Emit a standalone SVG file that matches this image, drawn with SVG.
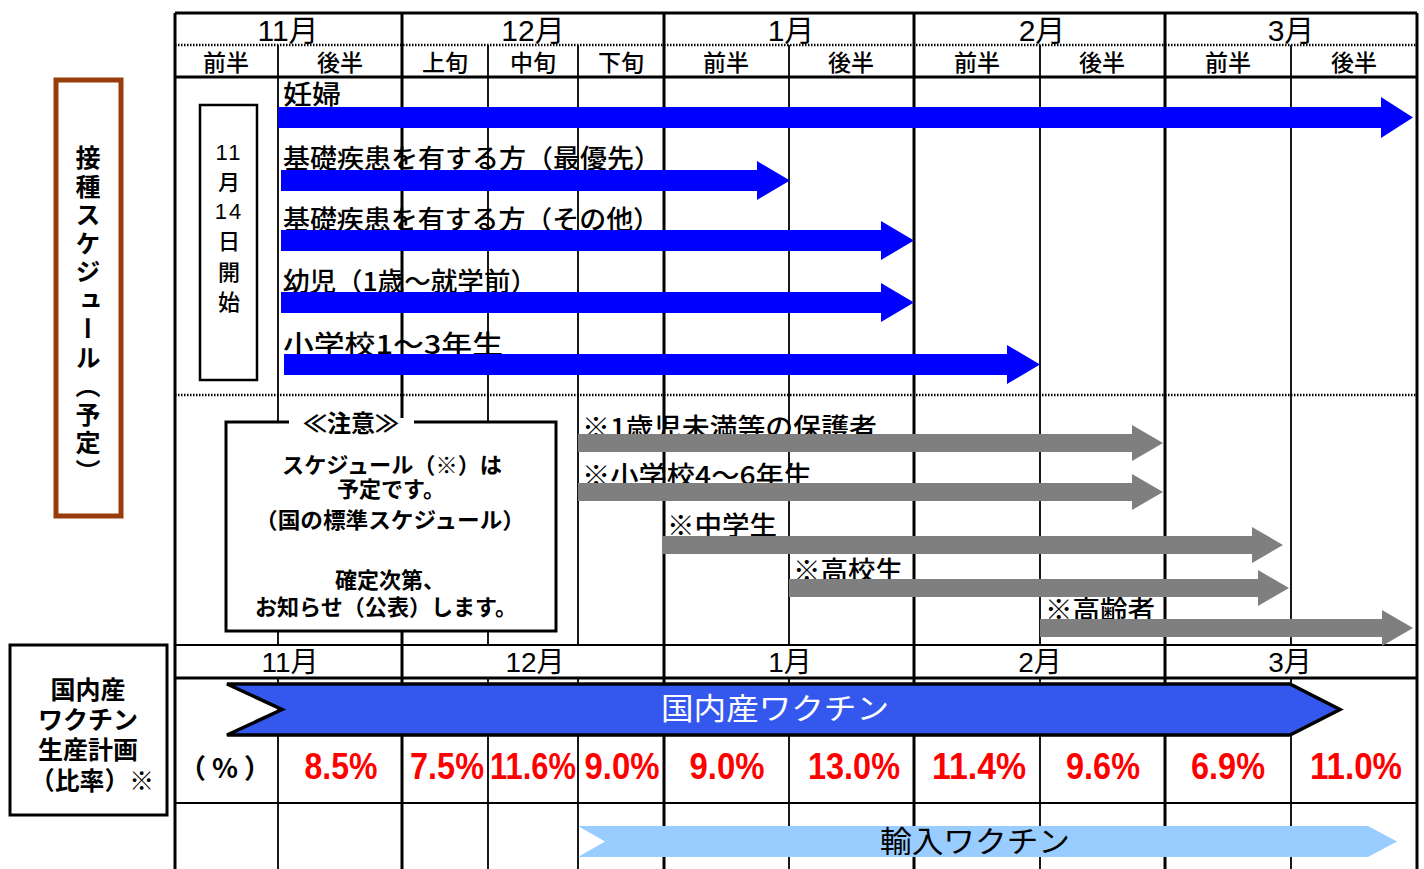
<svg xmlns="http://www.w3.org/2000/svg" width="1424" height="869" viewBox="0 0 1424 869">
<style>
text{font-family:'Liberation Sans','Noto Sans CJK JP',sans-serif;fill:#000}
.jp{font-family:'Noto Sans CJK JP',sans-serif}
.mon{font-size:30px;text-anchor:middle}
.mon2{font-size:28px;text-anchor:middle}
.half{font-size:23px;text-anchor:middle;font-family:'Noto Sans CJK JP',sans-serif;font-weight:500}
.lbl{font-size:26px;font-family:'Noto Sans CJK JP',sans-serif;font-weight:500}
.note{font-size:22px;font-weight:bold;text-anchor:middle}
.pct{font-size:37px;font-weight:bold;fill:#FF0000;text-anchor:middle}
.thick{stroke:#000;stroke-width:3;fill:none}
.thin{stroke:#000;stroke-width:1.8;fill:none}
.dot{stroke:#000;stroke-width:2.5;stroke-dasharray:1.5 1.5;fill:none}
.blue{fill:#0000FF}
.grey{fill:#7F7F7F}
</style>
<rect width="1424" height="869" fill="#fff"/>

<g id="grid">
  <line class="dot" x1="175" y1="45" x2="1417" y2="45"/>
  <line class="dot" x1="175" y1="395" x2="1417" y2="395"/>
  <path class="thin" d="M278 45V645M488 45V645M578 45V645M789 45V645M1040 45V645M1291 45V645M278 678V869M488 678V869M578 678V869M789 678V869M1040 678V869M1291 678V869"/>
  <path class="thick" d="M402 13V869M664 13V869M914 13V869M1165 13V869M175 13V869M1417 13V869M175 13H1417M175 77H1417M175 678H1417"/>
  <path class="thin" d="M175 645H1417M175 803H1417" style="stroke-width:2.2"/>
</g>

<g id="header">
  <text class="mon" x="288" y="41">11月</text>
  <text class="mon" x="533" y="41">12月</text>
  <text class="mon" x="791" y="41">1月</text>
  <text class="mon" x="1042" y="41">2月</text>
  <text class="mon" x="1291" y="41">3月</text>
  <text class="half" x="226" y="71">前半</text>
  <text class="half" x="340" y="71">後半</text>
  <text class="half" x="445" y="71">上旬</text>
  <text class="half" x="533" y="71">中旬</text>
  <text class="half" x="621" y="71">下旬</text>
  <text class="half" x="726" y="71">前半</text>
  <text class="half" x="851" y="71">後半</text>
  <text class="half" x="977" y="71">前半</text>
  <text class="half" x="1102" y="71">後半</text>
  <text class="half" x="1228" y="71">前半</text>
  <text class="half" x="1354" y="71">後半</text>
</g>

<g id="schedule-title">
  <rect x="56" y="80" width="65" height="436" fill="#fff" stroke="#983C0C" stroke-width="5"/>
  <text class="jp" x="88" y="145" font-size="25" font-weight="bold" letter-spacing="3.5" style="writing-mode:vertical-rl">接種スケジュール（予定）</text>
</g>

<g id="start-box">
  <rect x="200" y="105" width="57" height="275" fill="#fff" stroke="#000" stroke-width="2.5"/>
  <g font-size="22" text-anchor="middle" font-weight="500" class="jp">
    <text x="229" y="160" letter-spacing="2">11</text>
    <text x="229" y="190">月</text>
    <text x="229" y="219" letter-spacing="2">14</text>
    <text x="229" y="249">日</text>
    <text x="229" y="280">開</text>
    <text x="229" y="310">始</text>
  </g>
</g>

<g id="blue-arrows">
  <text class="lbl" x="283" y="104" textLength="58" lengthAdjust="spacingAndGlyphs">妊婦</text>
  <text class="lbl" x="283" y="168" textLength="378" lengthAdjust="spacingAndGlyphs">基礎疾患を有する方（最優先）</text>
  <text class="lbl" x="283" y="229" textLength="377" lengthAdjust="spacingAndGlyphs">基礎疾患を有する方（その他）</text>
  <text class="lbl" x="283" y="291" textLength="254" lengthAdjust="spacingAndGlyphs">幼児（1歳～就学前）</text>
  <text class="lbl" x="283" y="354" textLength="220" lengthAdjust="spacingAndGlyphs">小学校1～3年生</text>
  <polygon class="blue" points="278,107 1381,107 1381,97 1413,117.5 1381,138 1381,128 278,128"/>
  <polygon class="blue" points="281,170 757,170 757,161 790,180.5 757,200 757,191 281,191"/>
  <polygon class="blue" points="281,230 881,230 881,221 914,240.5 881,260 881,251 281,251"/>
  <polygon class="blue" points="281,292 881,292 881,283 914,302.5 881,322 881,313 281,313"/>
  <polygon class="blue" points="284,354 1007,354 1007,345 1040,364.5 1007,384 1007,375 284,375"/>
</g>

<g id="note-box">
  <rect x="226" y="422" width="330" height="209" fill="#fff" stroke="#000" stroke-width="3"/>
  <rect x="289" y="418" width="125" height="8" fill="#fff"/>
  <text class="note" x="351" y="432" style="font-size:24px">≪注意≫</text>
  <text class="note" x="392" y="473" textLength="220" lengthAdjust="spacingAndGlyphs">スケジュール（※）は</text>
  <text class="note" x="391" y="497">予定です。</text>
  <text class="note" x="390" y="528" textLength="270" lengthAdjust="spacingAndGlyphs">（国の標準スケジュール）</text>
  <text class="note" x="390" y="588">確定次第、</text>
  <text class="note" x="386" y="615" textLength="262" lengthAdjust="spacingAndGlyphs">お知らせ（公表）します。</text>
</g>

<g id="grey-arrows">
  <text class="lbl" x="582" y="437" textLength="295" lengthAdjust="spacingAndGlyphs">※1歳児未満等の保護者</text>
  <text class="lbl" x="582" y="485" textLength="230" lengthAdjust="spacingAndGlyphs">※小学校4～6年生</text>
  <text class="lbl" x="667" y="535" textLength="110" lengthAdjust="spacingAndGlyphs">※中学生</text>
  <text class="lbl" x="793" y="580" textLength="110" lengthAdjust="spacingAndGlyphs">※高校生</text>
  <text class="lbl" x="1045" y="619" textLength="110" lengthAdjust="spacingAndGlyphs">※高齢者</text>
  <polygon class="grey" points="578,434 1132,434 1132,425 1163,443 1132,461 1132,452 578,452"/>
  <polygon class="grey" points="578,483 1132,483 1132,474 1163,492 1132,510 1132,501 578,501"/>
  <polygon class="grey" points="663,536 1252,536 1252,527 1283,545 1252,563 1252,554 663,554"/>
  <polygon class="grey" points="789,579 1258,579 1258,570 1289,588 1258,606 1258,597 789,597"/>
  <polygon class="grey" points="1040,619 1382,619 1382,610 1413,628 1382,646 1382,637 1040,637"/>
</g>

<g id="bottom-months">
  <text class="mon2" x="290" y="672">11月</text>
  <text class="mon2" x="535" y="672">12月</text>
  <text class="mon2" x="790" y="672">1月</text>
  <text class="mon2" x="1040" y="672">2月</text>
  <text class="mon2" x="1290" y="672">3月</text>
</g>

<g id="production-title">
  <rect x="10" y="645" width="157" height="170" fill="#fff" stroke="#000" stroke-width="3"/>
  <g class="jp" font-size="25" font-weight="bold" text-anchor="middle">
    <text x="88" y="699">国内産</text>
    <text x="88" y="729">ワクチン</text>
    <text x="88" y="759">生産計画</text>
    <text x="92" y="790" textLength="124" lengthAdjust="spacingAndGlyphs">（比率）※</text>
  </g>
</g>

<g id="domestic-vaccine">
  <polygon points="227,684 1290,684 1340,709.5 1290,735 227,735 282,709.5" fill="#3458EE" stroke="#000" stroke-width="3.5" stroke-linejoin="miter"/>
  <text class="jp" x="775" y="719" font-size="30" style="fill:#fff" text-anchor="middle" textLength="228" lengthAdjust="spacingAndGlyphs">国内産ワクチン</text>
</g>

<g id="percentages">
  <text class="jp" x="225" y="778" font-size="27" font-weight="bold" text-anchor="middle" textLength="92" lengthAdjust="spacing">（%）</text>
  <text class="pct" x="341" y="779" textLength="73" lengthAdjust="spacingAndGlyphs">8.5%</text>
  <text class="pct" x="447" y="779" textLength="74" lengthAdjust="spacingAndGlyphs">7.5%</text>
  <text class="pct" x="533" y="779" textLength="86" lengthAdjust="spacingAndGlyphs">11.6%</text>
  <text class="pct" x="622" y="779" textLength="75" lengthAdjust="spacingAndGlyphs">9.0%</text>
  <text class="pct" x="727" y="779" textLength="75" lengthAdjust="spacingAndGlyphs">9.0%</text>
  <text class="pct" x="854" y="779" textLength="92" lengthAdjust="spacingAndGlyphs">13.0%</text>
  <text class="pct" x="979" y="779" textLength="94" lengthAdjust="spacingAndGlyphs">11.4%</text>
  <text class="pct" x="1103" y="779" textLength="74" lengthAdjust="spacingAndGlyphs">9.6%</text>
  <text class="pct" x="1228" y="779" textLength="74" lengthAdjust="spacingAndGlyphs">6.9%</text>
  <text class="pct" x="1356" y="779" textLength="92" lengthAdjust="spacingAndGlyphs">11.0%</text>
</g>

<g id="imported-vaccine">
  <polygon points="578,826 1368,826 1397,841.5 1368,857 578,857 605,841.5" fill="#99CCFF"/>
  <text class="jp" x="975" y="852" font-size="30" text-anchor="middle" textLength="190" lengthAdjust="spacingAndGlyphs">輸入ワクチン</text>
</g>
</svg>
